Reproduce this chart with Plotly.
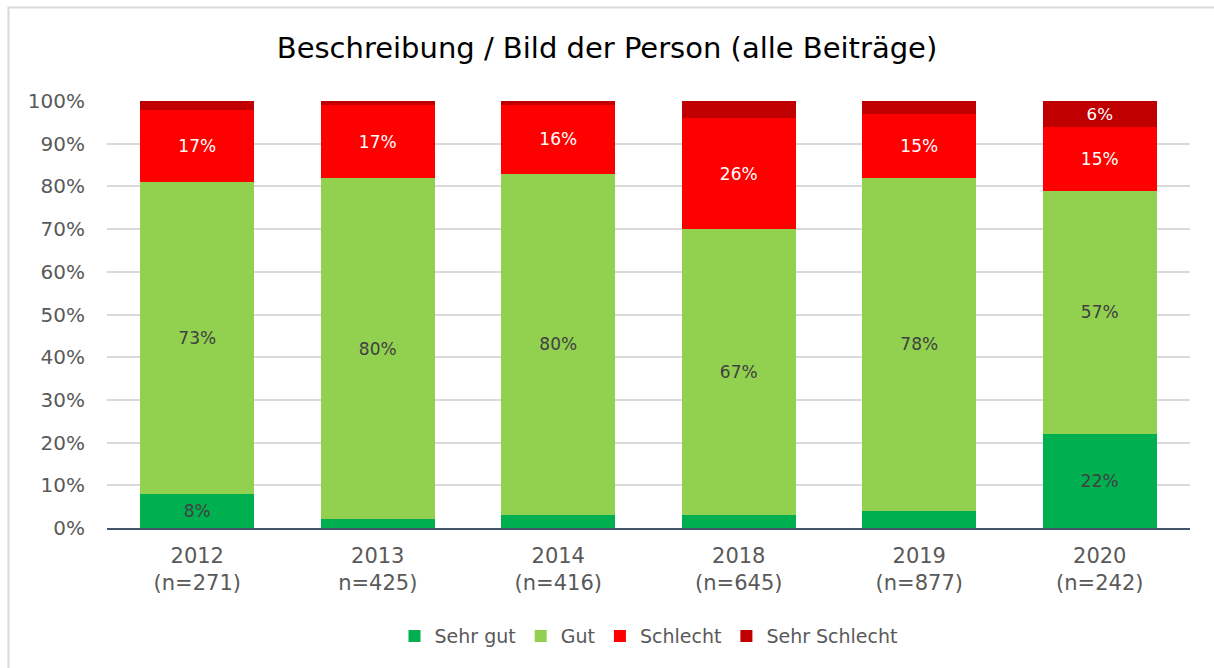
import plotly.graph_objects as go

categories = ["2012<br>(n=271)", "2013<br>n=425)", "2014<br>(n=416)",
              "2018<br>(n=645)", "2019<br>(n=877)", "2020<br>(n=242)"]
sehr_gut = [8, 2, 3, 3, 4, 22]
gut = [73, 80, 80, 67, 78, 57]
schlecht = [17, 17, 16, 26, 15, 15]
sehr_schlecht = [2, 1, 1, 4, 3, 6]

FONT = "DejaVu Sans, Liberation Sans, Arial, sans-serif"

series = [
    ("Sehr gut", sehr_gut, "#00B050", "#404040"),
    ("Gut", gut, "#92D050", "#404040"),
    ("Schlecht", schlecht, "#FF0000", "#FFFFFF"),
    ("Sehr Schlecht", sehr_schlecht, "#C00000", "#FFFFFF"),
]

fig = go.Figure()
for name, vals, color, tcolor in series:
    fig.add_trace(go.Bar(
        name=name, x=categories, y=vals,
        marker=dict(color=color, line=dict(width=0)),
        text=[f"{v}%" if v >= 5 else "" for v in vals],
        textposition="inside", insidetextanchor="middle",
        textfont=dict(color=tcolor, size=17, family=FONT),
        textangle=0,
        hoverinfo="x+y+name",
    ))

fig.update_layout(
    barmode="stack",
    bargap=0.37,
    width=1214, height=668,
    margin=dict(l=107, r=24, t=101, b=140),
    paper_bgcolor="white", plot_bgcolor="white",
    font=dict(family=FONT, color="#595959", size=20),
    title=dict(text="Beschreibung / Bild der Person (alle Beiträge)",
               x=0.5, xanchor="center", y=0.928, yanchor="middle",
               font=dict(size=29, color="#000000", family=FONT)),
    legend=dict(orientation="h", x=0.5, xanchor="center", y=-0.253, yanchor="middle",
                font=dict(size=19, color="#595959", family=FONT), traceorder="normal",
                itemwidth=30),
    uniformtext=dict(mode=False),
    showlegend=True,
)
fig.update_yaxes(range=[0, 100], tickvals=list(range(0, 101, 10)),
                 ticktext=[f"{v}%" for v in range(0, 101, 10)],
                 tickfont=dict(size=20, color="#595959", family=FONT),
                 showgrid=True, gridcolor="#D9D9D9", gridwidth=1.5,
                 zeroline=False, ticks="", ticklabelstandoff=21)
fig.update_xaxes(showline=True, linecolor="#44546A", linewidth=1.5,
                 ticks="", ticklabelstandoff=8,
                 tickfont=dict(size=21, color="#595959", family=FONT))

fig.add_shape(type="rect", xref="paper", yref="paper",
              x0=-0.0910, y0=-0.6, x1=1.2, y1=1.219,
              line=dict(color="#D9D9D9", width=2), fillcolor="rgba(0,0,0,0)",
              layer="below")

fig.write_html("out.html", config={"displayModeBar": False},
               post_script="document.body.style.margin='0';document.body.style.padding='0';")
